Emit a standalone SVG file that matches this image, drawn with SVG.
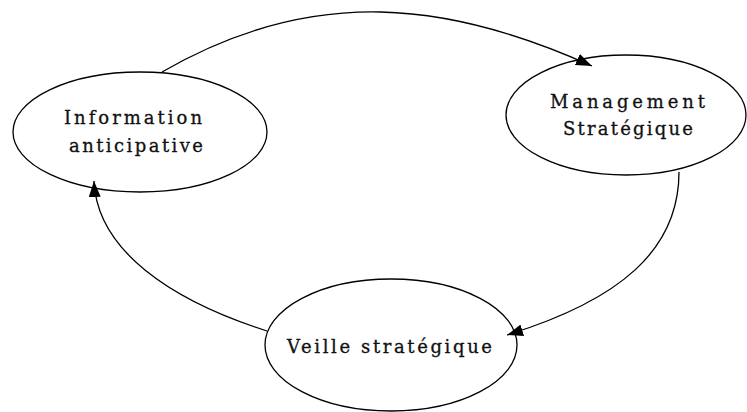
<svg xmlns="http://www.w3.org/2000/svg" width="747" height="412" viewBox="0 0 747 412">
<style>
.node ellipse{fill:none;stroke:#000;stroke-width:1.3}
.node text{font-family:"DejaVu Serif","Liberation Serif",serif;font-size:18px;fill:#111;stroke:#111;stroke-width:0.3}
.edge{fill:none;stroke:#000;stroke-width:1.3}
</style>
<defs>
<marker id="arr" viewBox="0 0 16 12" refX="16" refY="6" markerWidth="16" markerHeight="12" markerUnits="userSpaceOnUse" orient="auto">
<path d="M0,0 L16,6 L0,12 Z" fill="#000"/>
</marker>
</defs>
<rect width="747" height="412" fill="#fff"/>
<g id="node-info" class="node">
<ellipse cx="140" cy="132" rx="127" ry="60"/>
<text x="64" y="124" textLength="138" lengthAdjust="spacing">Information</text>
<text x="69" y="152" textLength="134" lengthAdjust="spacing">anticipative</text>
</g>
<g id="node-management" class="node">
<ellipse cx="626" cy="115" rx="120" ry="60"/>
<text x="550" y="108" textLength="155" lengthAdjust="spacing">Management</text>
<text x="563" y="135" textLength="130" lengthAdjust="spacing">Stratégique</text>
</g>
<g id="node-veille" class="node">
<ellipse cx="391" cy="345" rx="126" ry="66"/>
<text x="287" y="353" textLength="205" lengthAdjust="spacing">Veille stratégique</text>
</g>
<g id="connectors">
<path class="edge" d="M162,72 C314,-16 450,2 592,66" marker-end="url(#arr)"/>
<path class="edge" d="M679,172 C679,250 620,300 507,335" marker-end="url(#arr)"/>
<path class="edge" d="M267,331 C170,300 97,250 94,181" marker-end="url(#arr)"/>
</g>
</svg>
